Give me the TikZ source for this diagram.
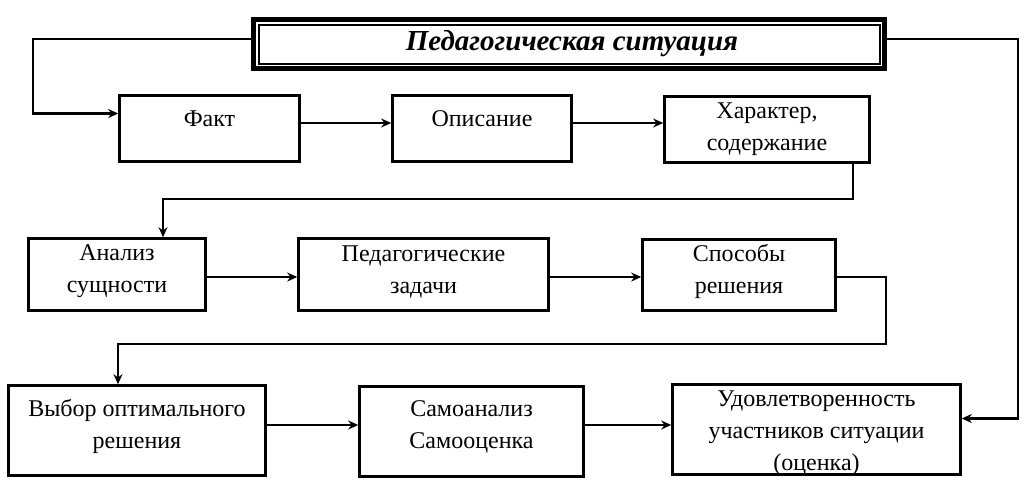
\documentclass[tikz,border=0pt]{standalone}
\usepackage{fontspec}
\setmainfont{Liberation Serif}
\usetikzlibrary{arrows.meta,calc}
\begin{document}
\begin{tikzpicture}[x=1pt,y=-1pt,
  box/.style={draw,line width=2.6pt,inner sep=0pt,rectangle},
  txt/.style={inner sep=0pt,align=center,font=\fontsize{24}{32}\selectfont},
  arr/.style={line width=2.6pt,-{Stealth[length=10pt,width=9pt]}}]
\useasboundingbox[fill=white] (0,0) rectangle (1036,499);
% title
\node[draw,line width=5pt,inner sep=0pt,minimum width=631pt,minimum height=49pt] (title) at (569,44) {};
\draw[line width=2pt] ([shift={(7.5pt,7.5pt)}]title.south west) rectangle ([shift={(-7.5pt,-7.5pt)}]title.north east);
\node[inner sep=0pt,font=\fontsize{29}{32}\selectfont\bfseries\itshape] (titleT) at ([shift={(3pt,0pt)}]title.center) {Педагогическая ситуация};
% row 1
\node[box,minimum width=180pt,minimum height=66pt] (fakt) at (209.5,128.5) {};
\node[box,minimum width=179pt,minimum height=66pt] (opis) at (482,128.5) {};
\node[box,minimum width=205pt,minimum height=66pt] (har) at (767,129.5) {};
\node[txt] (faktT) at ([yshift=10pt]fakt.center) {Факт};
\node[txt] (opisT) at ([yshift=10pt]opis.center) {Описание};
\node[txt] (harT) at ([yshift=0pt]har.center) {Характер,\\содержание};
% row 2
\node[box,minimum width=177pt,minimum height=72pt] (anal) at (117,274.5) {};
\node[box,minimum width=250pt,minimum height=72pt] (ped) at (423.5,274.5) {};
\node[box,minimum width=193pt,minimum height=71pt] (spos) at (739,275) {};
\node[txt] (analT) at ([yshift=3pt]anal.center) {Анализ\\сущности};
\node[txt] (pedT) at ([yshift=3pt]ped.center) {Педагогические\\задачи};
\node[txt] (sposT) at ([yshift=4pt]spos.center) {Способы\\решения};
% row 3
\node[box,minimum width=257pt,minimum height=90pt] (vyb) at (137,430.5) {};
\node[box,minimum width=224pt,minimum height=90pt] (samo) at (471.5,431.5) {};
\node[box,minimum width=288pt,minimum height=90pt] (udov) at (816.5,429.5) {};
\node[txt] (vybT) at ([yshift=4pt]vyb.center) {Выбор оптимального\\решения};
\node[txt] (samoT) at ([yshift=5pt]samo.center) {Самоанализ\\Самооценка};
\node[txt] (udovT) at ([yshift=-4pt]udov.center) {Удовлетворенность\\участников ситуации\\(оценка)};
% connectors
\draw[arr] ([yshift=5pt]title.west) -- ++(-218,0) |- ([yshift=15pt]fakt.west);
\draw[arr] ([yshift=5pt]title.east) -- ++(131,0) |- ([yshift=11pt]udov.east);
\draw[arr] ([yshift=5.5pt]fakt.east) -- ([yshift=5.5pt]fakt.east -| opis.west);
\draw[arr] ([yshift=5.5pt]opis.east) -- ([yshift=5.5pt]opis.east -| har.west);
\draw[arr] ([xshift=86pt]har.south) -- ++(0,35) -| ([xshift=46pt]anal.north);
\draw[arr] ([yshift=-2.5pt]anal.east) -- ([yshift=-2.5pt]anal.east -| ped.west);
\draw[arr] ([yshift=-2.5pt]ped.east) -- ([yshift=-2.5pt]ped.east -| spos.west);
\draw[arr] ([yshift=-2pt]spos.east) -- ++(49,0) -- ++(0,67) -| ([xshift=-19pt]vyb.north);
\draw[arr] ([yshift=5.5pt]vyb.east) -- ([yshift=5.5pt]vyb.east -| samo.west);
\draw[arr] ([yshift=6.5pt]samo.east) -- ([yshift=6.5pt]samo.east -| udov.west);
\end{tikzpicture}
\end{document}
